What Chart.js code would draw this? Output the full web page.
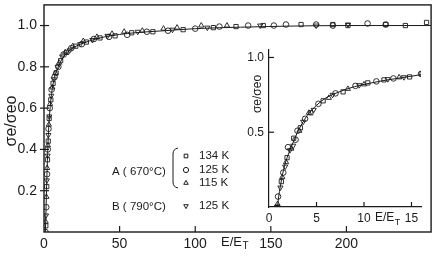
<!DOCTYPE html>
<html>
<head>
<meta charset="utf-8">
<script src="https://cdn.jsdelivr.net/npm/chart.js@4.4.1/dist/chart.umd.min.js"></script>
<style>
  body { margin: 0; background: #fff; }
  #wrap { position: relative; width: 436px; height: 259px; }
  #main_chart { position: absolute; left: 0; top: 0; }
  #inset_chart { position: absolute; left: 225px; top: 40px; }
</style>
</head>
<body>
<div id="wrap">
  <canvas id="main_chart" width="436" height="259"></canvas>
  <canvas id="inset_chart" width="205" height="190"></canvas>
</div>
<script>
// ---- main plot data (E/ET , sigma_e/sigma_eo) ----
const mainXTicks = [0, 50, 100, 150, 200];
const mainYTicks = [0.2, 0.4, 0.6, 0.8, 1.0];

// A (670C) 134 K  - squares
const sq134X = [1.2, 1.8, 2.3, 2.8, 3.4, 4.5, 6, 8, 11, 15, 21, 28, 37, 47, 58, 72, 92, 112, 127, 145, 170, 191, 201, 226, 239, 253];
const sq134Y = [0.03, 0.22, 0.35, 0.44, 0.55, 0.64, 0.72, 0.77, 0.83, 0.87, 0.9, 0.92, 0.94, 0.95, 0.965, 0.97, 0.98, 0.99, 0.995, 1.0, 1.005, 1.005, 1.0, 1.005, 1.0, 1.015];
// A (670C) 125 K  - circles
const ci125X = [1.0, 1.5, 2.0, 2.5, 3.0, 3.8, 5, 7, 9.5, 13, 18, 25, 33, 43, 55, 68, 82, 100, 116, 135, 152, 160, 180, 191, 214, 226];
const ci125Y = [0.0, 0.12, 0.28, 0.4, 0.5, 0.6, 0.69, 0.75, 0.8, 0.86, 0.89, 0.91, 0.935, 0.945, 0.955, 0.97, 0.975, 0.985, 0.995, 1.0, 1.0, 1.005, 1.005, 1.0, 1.01, 1.005];
// A (670C) 115 K  - triangles
const tr115X = [1.1, 1.6, 2.1, 2.6, 3.2, 4, 5.5, 7.5, 10, 14, 19, 26, 35, 45, 53, 65, 79, 88, 104, 121];
const tr115Y = [0.05, 0.17, 0.31, 0.42, 0.52, 0.62, 0.7, 0.77, 0.82, 0.87, 0.9, 0.925, 0.945, 0.96, 0.97, 0.975, 0.985, 0.99, 1.0, 1.0];
// B (790C) 125 K  - down triangles
const bt125X = [1.3, 1.9, 2.4, 2.9, 3.5, 4.8, 6.5, 9, 12, 17, 24, 32, 42, 62, 85, 108, 143, 180, 201];
const bt125Y = [0.08, 0.25, 0.37, 0.47, 0.56, 0.66, 0.74, 0.8, 0.85, 0.88, 0.91, 0.93, 0.95, 0.97, 0.98, 0.99, 1.0, 1.0, 1.005];
// drawn curve
const curveX = [0.9, 1.3, 1.8, 2.4, 3, 3.8, 5, 7, 10, 14, 20, 30, 40, 60, 80, 100, 130, 160, 200, 256];
const curveY = [0, 0.1, 0.24, 0.38, 0.49, 0.58, 0.67, 0.75, 0.81, 0.86, 0.895, 0.925, 0.945, 0.965, 0.975, 0.985, 0.992, 0.997, 1.0, 1.0];

// ---- inset data ----
const insetXTicks = [0, 5, 10, 15];
const insetYTicks = [0.5, 1.0];

const inSqX = [0.85, 1.3, 1.9, 2.6, 3.3, 4.4, 5.7, 7.8, 10.4, 12.1, 14.8, 16.1];
const inSqY = [0, 0.17, 0.33, 0.46, 0.53, 0.63, 0.71, 0.77, 0.83, 0.85, 0.87, 0.89];
const inCiX = [0.95, 1.5, 2.0, 2.8, 3.0, 3.8, 5.2, 7.0, 9.1, 11.3, 13.1, 16.0];
const inCiY = [0.07, 0.23, 0.4, 0.45, 0.51, 0.59, 0.69, 0.76, 0.81, 0.84, 0.86, 0.89];
const inTrX = [0.9, 1.4, 1.8, 2.35, 3.2, 4.2, 6.3, 8.3, 10.0, 13.7];
const inTrY = [0.02, 0.2, 0.3, 0.39, 0.51, 0.63, 0.73, 0.79, 0.82, 0.867];
const inBtX = [0.85, 1.2, 1.7, 2.2, 2.55, 3.6, 4.7, 6.7, 9.5, 12.5, 14.2];
const inBtY = [0.0, 0.13, 0.27, 0.38, 0.41, 0.57, 0.65, 0.75, 0.815, 0.855, 0.868];
const inCurveX = [0.9, 1.0, 1.2, 1.5, 1.8, 2.2, 2.6, 3.0, 3.5, 4, 5, 6, 7, 8, 9, 10, 12, 14, 16];
const inCurveY = [0, 0.06, 0.14, 0.24, 0.31, 0.38, 0.44, 0.5, 0.56, 0.61, 0.68, 0.73, 0.76, 0.785, 0.805, 0.82, 0.845, 0.865, 0.885];

const INK = '#1b1b1b';
const FONT = "'Liberation Sans', Arial, sans-serif";
Chart.defaults.font.family = FONT;
Chart.defaults.color = INK;

function pts(xs, ys) {
  return xs.map((x, i) => ({ x: x, y: ys[i] }));
}

function markers(label, xs, ys, style, rot, r) {
  return {
    label: label,
    data: pts(xs, ys),
    pointStyle: style,
    rotation: rot,
    pointRadius: r,
    borderColor: INK,
    backgroundColor: 'rgba(0,0,0,0)',
    borderWidth: 0.9,
    pointBorderWidth: 0.9,
    showLine: false
  };
}

function curve(xs, ys) {
  return {
    label: 'curve',
    data: pts(xs, ys),
    showLine: true,
    pointRadius: 0,
    borderColor: INK,
    borderWidth: 1,
    cubicInterpolationMode: 'monotone',
    order: 10
  };
}

function fixedTicks(list) {
  return function (scale) {
    scale.ticks = list.map(v => ({ value: v }));
  };
}

//fix the axis size and drop the label overhang padding
function fitSize(prop, size) {
  return function (scale) {
    scale[prop] = size;
    scale.paddingTop = 0;
    scale.paddingBottom = 0;
    scale.paddingLeft = 0;
    scale.paddingRight = 0;
  };
}

//box around main plot
const frameBox = {
  id: 'frameBox',
  afterDraw(chart) {
    const a = chart.chartArea, ctx = chart.ctx;
    ctx.save();
    ctx.strokeStyle = INK;
    ctx.lineWidth = 1.4;
    ctx.strokeRect(a.left, a.top, a.right - a.left, a.bottom - a.top);
    ctx.restore();
  }
};

//short tick marks drawn on the axis lines
function tickMarks(xIn, yIn, yOut) {
  return {
    id: 'tickMarks',
    afterDraw(chart) {
      const ctx = chart.ctx, a = chart.chartArea;
      ctx.save();
      ctx.strokeStyle = INK;
      ctx.lineWidth = 1.2;
      chart.scales.x.ticks.forEach(t => {
        if (t.value === 0) return;
        const px = chart.scales.x.getPixelForValue(t.value);
        ctx.beginPath(); ctx.moveTo(px, a.bottom); ctx.lineTo(px, a.bottom - xIn); ctx.stroke();
      });
      chart.scales.y.ticks.forEach(t => {
        const py = chart.scales.y.getPixelForValue(t.value);
        ctx.beginPath(); ctx.moveTo(a.left - yOut, py); ctx.lineTo(a.left + yIn, py); ctx.stroke();
      });
      ctx.restore();
    }
  };
}

//axis titles: E/E_T with subscript and rotated sigma_e/sigma_eo
function axisText(o) {
  return {
    id: 'axisText',
    afterDraw(chart) {
      const ctx = chart.ctx;
      ctx.save();
      ctx.fillStyle = INK;
      ctx.textBaseline = 'middle';
      ctx.textAlign = 'left';
      ctx.font = o.xSize + 'px ' + FONT;
      ctx.fillText('E/E', o.xPos[0], o.xPos[1]);
      const w = ctx.measureText('E/E').width;
      ctx.font = Math.round(o.xSize * 0.75) + 'px ' + FONT;
      ctx.fillText('T', o.xPos[0] + w + 0.5, o.xPos[1] + o.xSize * 0.35);
      ctx.translate(o.yPos[0], o.yPos[1]);
      ctx.rotate(-Math.PI / 2);
      ctx.textAlign = 'center';
      ctx.font = o.ySize + 'px ' + FONT;
      ctx.fillText('\u03c3e/\u03c3eo', 0, 0);
      ctx.restore();
    }
  };
}

//legend block with bracket
const legendRows = [
  { style: 'rect', rot: 0, text: '134 K', y: 156 },
  { style: 'circle', rot: 0, text: '125 K', y: 170 },
  { style: 'triangle', rot: 0, text: '115 K', y: 183 },
  { style: 'triangle', rot: 180, text: '125 K', y: 206 }
];
const legendBlock = {
  id: 'legendBlock',
  afterDraw(chart) {
    const ctx = chart.ctx;
    ctx.save();
    ctx.fillStyle = INK;
    ctx.strokeStyle = INK;
    ctx.font = '11.5px ' + FONT;
    ctx.textBaseline = 'middle';
    ctx.fillText('A ( 670\u00b0C)', 112, 172);
    ctx.fillText('B ( 790\u00b0C)', 112, 207);
    ctx.lineWidth = 1;
    ctx.beginPath();
    ctx.moveTo(178, 148);
    ctx.quadraticCurveTo(173, 149, 173, 154);
    ctx.lineTo(173, 182);
    ctx.quadraticCurveTo(173, 187, 178, 188);
    ctx.stroke();
    legendRows.forEach(r => {
      // hollow marker, then its label
      ctx.fillStyle = 'rgba(0,0,0,0)';
      Chart.helpers.drawPoint(ctx, { pointStyle: r.style, rotation: r.rot, radius: 2.6, borderWidth: 0.9 }, 186, r.y);
      ctx.fillStyle = INK;
      ctx.fillText(r.text, 199, r.y);
    });
    ctx.restore();
  }
};

// main chart
new Chart(document.getElementById('main_chart'), {
  type: 'scatter',
  data: {
    datasets: [
      curve(curveX, curveY),
      markers('134 K', sq134X, sq134Y, 'rect', 0, 3),
      markers('125 K', ci125X, ci125Y, 'circle', 0, 2.8),
      markers('115 K', tr115X, tr115Y, 'triangle', 0, 3),
      markers('B 125 K', bt125X, bt125Y, 'triangle', 180, 3)
    ]
  },
  options: {
    responsive: false,
    animation: false,
    devicePixelRatio: 1,
    layout: { padding: { left: 0, top: 3, right: 3, bottom: 0 } },
    plugins: { legend: { display: false }, tooltip: { enabled: false } },
    scales: {
      x: {
        type: 'linear', min: 0, max: 256,
        afterBuildTicks: fixedTicks(mainXTicks),
        afterFit: fitSize('height', 27),
        grid: { display: false, drawTicks: false },
        border: { display: false },
        ticks: { padding: 4, font: { size: 14 }, color: INK, maxRotation: 0, autoSkip: false, callback: v => String(v) }
      },
      y: {
        type: 'linear', min: 0, max: 1.1,
        afterBuildTicks: fixedTicks(mainYTicks),
        afterFit: fitSize('width', 44),
        grid: { display: false, drawTicks: false },
        border: { display: false },
        ticks: { padding: 7, font: { size: 14 }, color: INK, autoSkip: false, callback: v => v.toFixed(1) }
      }
    }
  },
  plugins: [frameBox, tickMarks(6, 5, 4), axisText({ xPos: [221, 242], xSize: 13, yPos: [12, 121], ySize: 16 }), legendBlock]
});

// inset chart
new Chart(document.getElementById('inset_chart'), {
  type: 'scatter',
  data: {
    datasets: [
      curve(inCurveX, inCurveY),
      markers('134 K', inSqX, inSqY, 'rect', 0, 3),
      markers('125 K', inCiX, inCiY, 'circle', 0, 2.8),
      markers('115 K', inTrX, inTrY, 'triangle', 0, 3),
      markers('B 125 K', inBtX, inBtY, 'triangle', 180, 3)
    ]
  },
  options: {
    responsive: false,
    animation: false,
    devicePixelRatio: 1,
    layout: { padding: { left: 0, top: 10, right: 9, bottom: 0 } },
    plugins: { legend: { display: false }, tooltip: { enabled: false } },
    scales: {
      x: {
        type: 'linear', min: 0, max: 16,
        afterBuildTicks: fixedTicks(insetXTicks),
        afterFit: fitSize('height', 23),
        grid: { display: false, drawTicks: false },
        border: { display: true, color: INK, width: 1.2 },
        ticks: { padding: 4, font: { size: 12 }, color: INK, maxRotation: 0, autoSkip: false, callback: v => String(v) }
      },
      y: {
        type: 'linear', min: 0, max: 1.05,
        afterBuildTicks: fixedTicks(insetYTicks),
        afterFit: fitSize('width', 44),
        grid: { display: false, drawTicks: false },
        border: { display: true, color: INK, width: 1.2 },
        ticks: { padding: 5, font: { size: 12 }, color: INK, autoSkip: false, callback: v => v.toFixed(1) }
      }
    }
  },
  plugins: [tickMarks(5, 5, 0), axisText({ xPos: [150, 178], xSize: 12, yPos: [33, 54], ySize: 12 })]
});
</script>
</body>
</html>
